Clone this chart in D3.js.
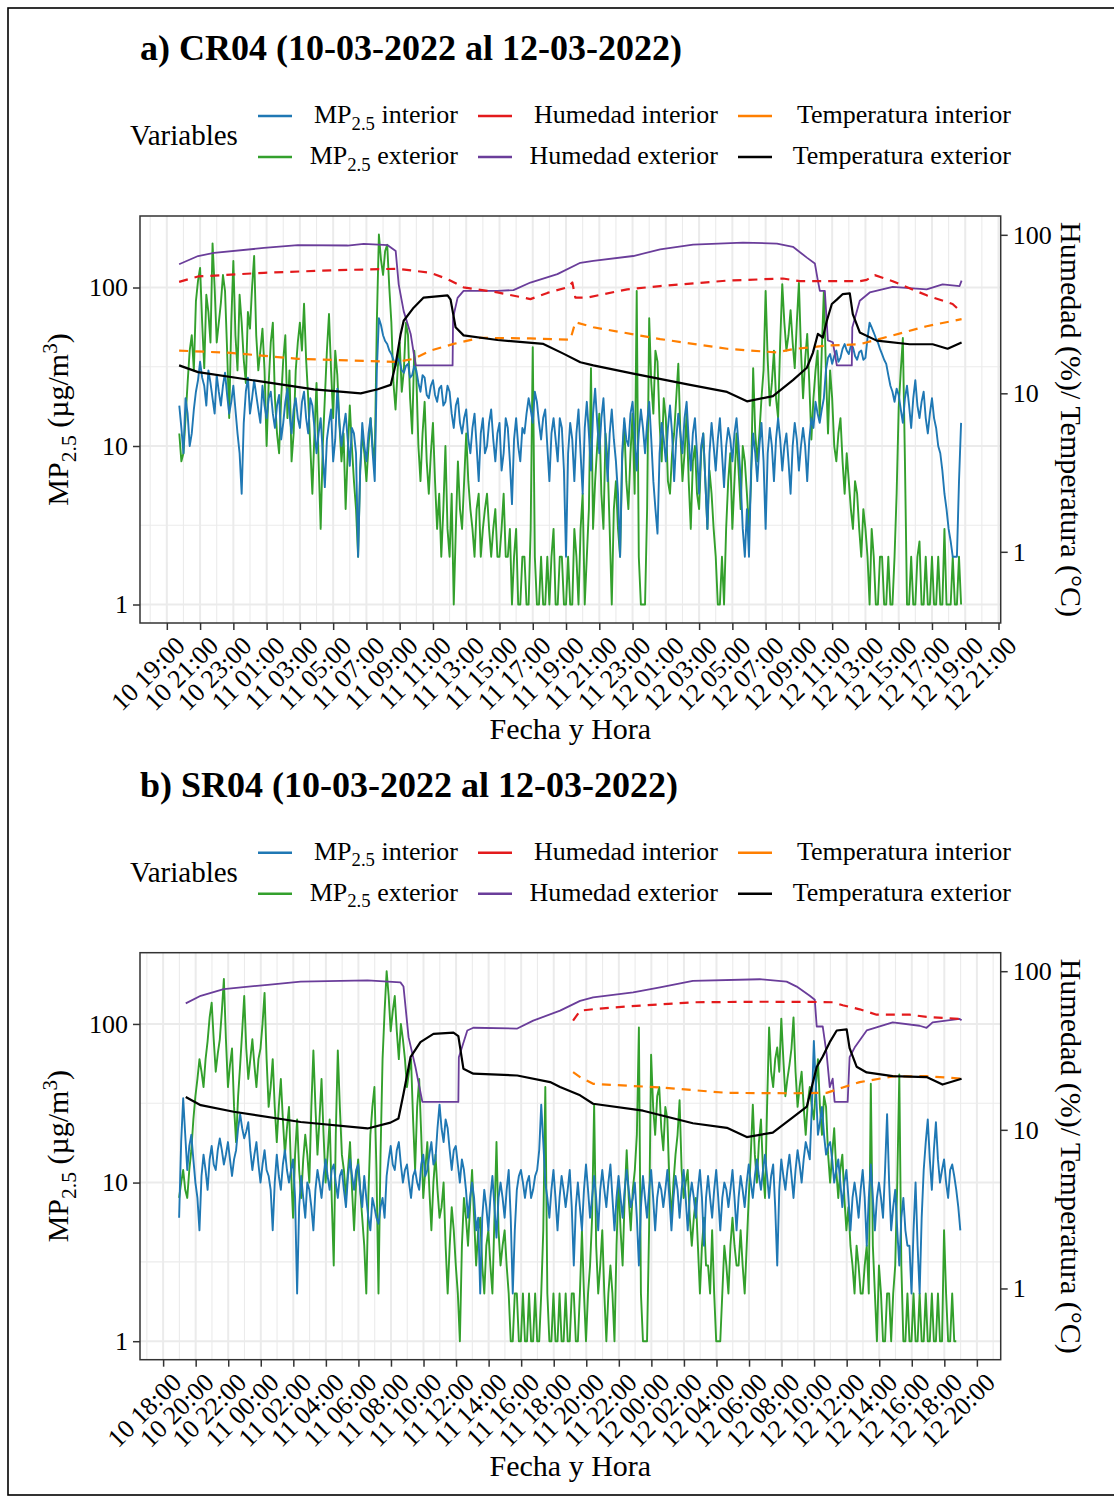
<!DOCTYPE html>
<html>
<head>
<meta charset="utf-8">
<script src="https://cdn.jsdelivr.net/npm/d3@7"></script>
<style>
  body { margin: 0; background: #fff; }
  text { font-family: "Liberation Serif", "Times New Roman", serif; fill: #000; }
</style>
</head>
<body>
<div id="graph"></div>
<script>
var width = 1114, height = 1501
var L = 140, R = 1000.7, T = 216, B = 623   // plot area inside each panel group
var k = 2.15                                  // secondary axis: left value = right value * k
var pmStepMin = 7.5

// ---- a) CR04 ----
var pmStartA = '2022-03-10 19:45'
var pmInA = [18,13,9,20,16,10,12,17,22,26,34,27,24,18,30,25,20,16,28,22,
  18,24,29,21,16,19,24,17,12,9,5,14,22,27,16,20,26,21,17,14,
  24,18,15,20,22,16,13,18,21,11,14,19,23,16,12,17,20,15,13,19,
  22,15,12,20,18,13,9,12,15,9,5.5,11,14,17,8,11,23,14,10,13,
  16,11,7.5,13,12,9,2,7,14,10,8,12,15,9,6,30,64,58,50,46,
  44,40,38,35,32,36,34,30,29,32,33,27,28,32,30,25,22,28,27,21,
  20,24,26,21,19,23,24,18,19,24,22,16,13,18,20,14,12,15,17,11,
  9,13,16,10,6,12,15,9,10,14,17,11,8,12,14,7,9,15,13,8,
  4.3,11,15,10,8,13,12,16,20,17,14,22,19,14,11,15,17,10,6,12,
  15,11,8,15,13,7,2,9,14,11,6,12,17,9,5,13,19,12,7,16,
  23,14,9,15,20,11,6,12,17,11,8,5,2,9,15,11,10,16,19,12,
  7,12,17,13,9,14,19,11,6,4,2.8,9,14,11,8,13,18,12,6,11,
  16,12,9,15,19,11,7,12,15,9,5,10,12,6,3,9,14,10,7,11,
  15,9,5.5,10,13,11,8,12,15,10,6,3,2,4,2,7,12,9,6,10,
  14,8,3,9,13,10,6,11,15,11,7,10,12,8,5,10,14,11,7,10,
  13,10,6,11,15,13,19,16,14,17,20,30,36,38,33,37,40,34,36,41,
  44,40,38,43,42,37,35,39,40,35,36,48,60,56,52,48,45,41,38,35,
  33,28,24,22,19,23,21,17,14,20,24,18,13,20,26,18,15,19,22,15,
  12,16,20,15,13,10,9,7,5,4,3,2.5,2,2,2,6,14]
var pmExA = [12,8,9,15,25,40,50,30,82,110,133,60,31,90,70,45,190,100,45,60,
  80,120,95,40,15,60,147,50,30,90,60,35,25,70,55,100,158,50,30,40,
  55,30,10,25,45,60,20,12,9,20,35,50,15,30,8,12,30,45,60,40,
  79,35,20,10,5,12,25,8,3,10,20,40,68,30,15,40,28,14,8,12,
  4,9,18,10,6,4,2,7,12,9,6,10,15,10,8,60,216,150,120,170,
  186,100,60,25,17,30,45,22,30,60,50,20,12,40,28,10,6,12,19,8,
  5,9,14,6,3,5,2,4,10,3,2,5,1,3,8,4,3,6,12,6,
  4,3,2,4,5,2,3,4,5,3,2,3,4,2,2,3,5,2,2,3,
  1,2,3,1,1,2,2,1,1,3,42,2,1,1,2,1,1,2,1,2,
  3,1,1,2,2,1,1,2,1,1,3,2,1,3,5,1,2,4,31,3,
  6,10,16,5,3,12,8,3,1,4,6,3,2,8,14,6,4,9,16,5,
  95,2,1,1,1,4,64,25,16,40,34,14,8,20,15,6,5,9,12,20,
  33,12,6,9,16,6,3,8,10,5,4,9,12,6,3,7,5,3,2,1,
  1,2,1,3,6,9,3,6,12,7,4,10,8,5,3,6,31,12,8,12,
  20,30,95,35,18,25,40,20,15,45,105,60,40,50,72,45,31,60,107,40,
  20,35,51,25,11,20,30,40,15,40,95,30,12,30,20,10,8,12,15,8,
  5,9,6,4,3,6,5,3,2,4,3,2,1,3,2,1,1,2,2,1,
  1,2,1,1,2,5,17.5,30,48,8,1,1,2,1,1,2,2.5,1,1,2,
  1,1,2,1,1,2,1,1,3,1,1,1,2,1,1,2,1]
// [hours from 10-03 00:00, value]
var humExA = [[19.74,65.2],[20.88,73.5],[21.84,77],[24.84,82.6],[26.88,86],[29.87,85.6],[30.84,87.8],
  [32.28,86],[32.76,79],[32.94,48.7],[33.24,33],[33.66,23.7],[33.96,15],[36.18,15],[36.21,30],[36.48,40],
  [36.84,44.3],[38.88,44.3],[39.84,44.8],[40.86,50],[42.48,56.5],[43.86,66.6],[44.64,68.4],[47.04,73.5],
  [48.66,80.9],[50.64,86.8],[53.64,89.4],[55.68,88],[56.64,84],[57.48,71.8],[57.96,66],[58.14,51.4],
  [58.26,44.3],[58.56,44.3],[58.74,21.6],[59.04,21],[59.28,15],[60.18,15],[60.21,26],[60.66,38.4],
  [61.26,43.3],[62.64,47],[64.68,45.3],[65.64,48.7],[66.66,47.5],[66.78,51.4]]
var humInA = [[19.74,50.5],[20.88,54.6],[24.84,57.6],[28.86,59.7],[32.88,61.1],[34.86,57.6],[35.88,52.5],
  [36.84,46.6],[38.88,43.3],[40.86,39.3],[41.88,43],[43.08,46.6],[43.38,50],[43.56,40.2],[44.28,40.2],
  [46.68,45.3],[48.66,47.5],[52.68,51.4],[56.04,53],[57.06,51],[60.66,51],[61.08,52],[61.56,55.7],
  [62.64,51],[64.68,41.5],[66.24,36.6],[66.78,32.5]]
var tempInA = [[19.74,18.6],[22.86,18],[26.88,16.5],[30.84,16],[32.88,15.8],[33.84,16.5],[34.86,18.6],
  [36.24,20.5],[37.86,22.4],[40.86,22.2],[43.26,21.8],[43.56,28.1],[44.64,26.1],[48.66,22],[52.68,19.1],
  [55.68,18.1],[56.64,19],[58.68,20],[60.66,20.4],[62.64,23.2],[64.68,26.5],[66.78,29.4]]
var tempExA = [[19.74,15],[20.88,13.6],[24.84,11.8],[27.84,10.6],[30.66,10],[31.68,10.6],[32.46,11.3],
  [32.76,15.3],[33.06,23.7],[33.24,28.7],[33.84,34.7],[34.44,40.2],[35.88,41.5],[36.06,39],[36.36,26.1],
  [36.84,23.2],[38.88,21.7],[41.64,20.5],[42.84,17.8],[43.86,15.7],[44.64,15],[47.04,13.3],[50.46,11.3],
  [52.68,10.2],[53.88,8.9],[55.44,9.6],[56.64,12.1],[57.48,14.5],[57.84,18],[58.14,23.7],[58.44,22.5],
  [58.68,28.7],[58.98,36.6],[59.28,39],[59.64,42.3],[60.06,42.7],[60.24,31.6],[60.66,24.2],[61.68,21.5],
  [63.66,20.4],[65.04,20.4],[65.94,19.1],[66.78,20.9]]

// ---- b) SR04 ----
var pmStartB = '2022-03-10 18:59'
var pmInB = [6,18,34,20,12,17,20,14,10,8,5,11,15,12,9,14,17,13,12,16,
  19,16,13,15,18,14,11,14,16,22,27,22,19,21,24,16,12,15,18,13,
  10,13,16,12,11,9,5,10,15,11,9,13,16,12,10,12,14,8,2,7,
  11,8,6,10,9,7,5,9,12,10,8,11,14,11,9,12,13,10,8,11,
  12,9,7,11,14,11,9,12,13,9,7,11,8,6,5,8,7,6,5.5,7,
  8,6,11,14,17,13,12,16,18,13,10,12,13,10,8,11,12,10,9,13,
  15,11,12,15,18,13,14,22,31,22,18,25,22,16,12,16,17,13,10,14,
  12,9,6,8,10,8,5,6,2,6,9,7,5,8,11,7,4.5,8,10,8,
  6,9,12,6,2,5,9,11,12,10,8,10,11,8,9,11,12,16,31,18,
  10,8,6,9,12,8,5,8,11,9,7,9,12,7,3,7,10,7,5,9,
  13,9,6,8,11,8,5,9,12,9,7,10,13,8,5,8,11,8,6,9,
  12,9,7,8,10,6,3,7,11,8,6,9,12,8,5,8,10,9,7,9,
  12,8,5,8,11,9,6,9,12,8,5,8,10,8,6,9,12,8,4,8,
  11,8,6,9,12,8,5,8,10,9,7,9,12,8,5,8,11,9,7,10,
  13,10,8,11,14,11,9,12,15,11,8,11,13,7,3,9,14,11,9,12,
  15,11,8,12,16,13,10,14,18,16,14,30,78,40,20,24,30,20,15,17,
  18,14,10,12,14,10,7,10,12,8,5,8,10,8,6,9,12,8,4,8,
  13,8,5,8,10,8,6,12,27,10,5,7,9,5,3,6,8,5,4,4,
  2,5,10,4,2,6,12,18,25,14,9,16,24,14,10,12,14,10,8,12,
  13,11,9,7,5]
var pmExB = [8,10,12,9,8,12,16,25,35,45,60,50,40,60,78,110,136,80,50,65,
  80,120,192,80,40,55,70,30,18,35,55,90,150,70,45,60,80,55,40,60,
  70,100,157,60,30,40,60,30,18,30,45,25,15,22,30,12,6,15,25,12,
  8,14,20,15,10,30,68,30,15,25,45,20,10,15,25,8,3,20,68,30,
  15,12,8,12,18,9,5,10,14,9,6,4,2,8,20,30,40,12,2,15,
  60,120,215,150,90,120,150,90,60,100,80,60,40,50,60,25,12,30,45,20,
  8,12,18,9,5,10,15,9,6,7,10,4,2,4,7,5,3,2,1,4,
  8,6,4,7,12,6,3,5,6,3,2,4,5,3,2,6,18,5,3,4,
  5,3,2,1,1,2,2,1,1,2,1,1,2,1,1,2,1,1,2,5,
  40,2,1,1,2,1,1,2,1,1,2,1,1,2,2,1,1,2,5,2,
  1,2,3,6,31,4,2,3,5,2,1,2,3,2,1,4,10,5,3,8,
  16,8,5,9,12,20,95,2,1,1,1,5,64,30,20,35,40,22,16,30,
  25,10,6,10,15,20,33,12,8,10,12,6,4,6,8,4,2,4,6,3,
  3,2,5,2,1,1,1,2,4,3,2,4,6,4,3,3,5,3,2,4,
  8,15,31,15,10,18,25,12,8,30,95,50,40,60,71,50,108,60,35,45,
  55,70,110,50,30,40,50,30,20,32,40,30,25,40,60,30,20,35,30,15,
  10,15,22,12,8,12,15,8,5,7,4,3,2,4,3,2,2,3,4,2,
  42,4,2,1,3,2,1,1,2,2,1,2,3,10,48,3,1,1,2,1,
  1,2,1,1,2,1,1,2,1,1,2,1,1,2,1,1,5,2,1,1,
  2,1,1]
var humExB = [[19.39,62.7],[20.31,70],[21.72,77.2],[24.42,82],[26.45,86],[30.56,87.5],[32.58,85],[32.77,80],
  [33.08,38.4],[33.5,25],[33.93,15],[36.14,15],[36.17,28.7],[36.69,42.3],[37.06,44],[39.76,43.5],
  [40.74,48.8],[42.39,56.4],[43.62,65],[44.42,68.4],[46.88,73.5],[48.53,79],[50.55,87],[54.66,89],
  [56.31,86],[56.93,80],[57.73,70],[58.04,66],[58.16,44.8],[58.53,44.8],[58.77,30],[58.96,18.6],
  [59.14,21],[59.26,15],[60.06,15],[60.18,28.7],[60.49,33],[61.23,42.3],[62.83,47.6],[64.48,45.3],
  [64.91,44],[65.28,47.6],[66.94,50],[67.06,49]]
var humInB = [[43.19,48.8],[43.62,56.4],[44.42,57.6],[46.51,60],[50.55,63.7],[54.66,64.2],[57.92,64],
  [59.14,63.7],[59.76,61],[60.8,57.5],[61.84,53.2],[63.87,53.2],[64.91,51.5],[67.06,50]]
var tempInB = [[43.19,23.1],[43.62,21.5],[44.42,19.5],[48.53,18.5],[52.64,17.1],[56.69,17],[58.77,17.1],
  [59.76,18.5],[60.8,20],[62.83,21.7],[64.91,21.8],[67.06,21]]
var tempExB = [[19.39,16.1],[20.31,14.3],[22.34,13],[26.45,11.2],[30.56,10.2],[31.97,11.1],[32.46,11.8],
  [32.77,16.9],[33.2,28.7],[33.81,35.7],[34.61,40.3],[35.84,41],[36.14,39],[36.45,24.3],[37.06,22.6],
  [39.76,22],[41.78,20],[42.39,18.6],[43.62,16.5],[44.42,14.6],[47.49,13.2],[50.55,11],[52.64,10.3],
  [53.86,9],[55.46,9.6],[56.69,12],[57.55,14],[58.16,24.9],[58.53,29],[58.96,35.7],[59.39,42.3],
  [60,43],[60.18,32.7],[60.61,25],[61.23,23],[62.83,21.8],[64.91,21.5],[65.89,19.3],[67.06,21]]

var colors = {pmIn: '#1f78b4', pmEx: '#33a02c', humIn: '#e31a1c', humEx: '#6a3d9a', tempIn: '#ff7f00', tempEx: '#000'}

var parse = d3.timeParse('%Y-%m-%d %H:%M')
var day0 = parse('2022-03-10 00:00')
function atHour(h){ return new Date(+day0 + h*3600e3) }
function regular(start, vals){
  var t0 = parse(start)
  return vals.map(function(v, i){ return {date: new Date(+t0 + i*pmStepMin*60e3), v: v} })
}
function pairs(arr){ return arr.map(function(d){ return {date: atHour(d[0]), v: d[1]} }) }

var svg = d3.select('#graph').append('svg').attr('width', width).attr('height', height)
svg.append('rect').attr('x', 8).attr('y', 8).attr('width', 1200).attr('height', 1487)
  .attr('fill', 'none').attr('stroke', '#000').attr('stroke-width', 1.6)

function mpText(sel, rest, sz){
  sel.append('tspan').text('MP')
  sel.append('tspan').attr('font-size', sz*0.72).attr('dy', sz*0.25).text('2.5')
  sel.append('tspan').attr('dy', -sz*0.25).text(rest)
}

function drawPanel(g, p){
  var series = [
    {key: 'pmEx', data: regular(p.pmStart, p.pmEx), left: true, w: 1.9},
    {key: 'pmIn', data: regular(p.pmStart, p.pmIn), left: true, w: 1.9},
    {key: 'humEx', data: pairs(p.humEx), w: 1.8},
    {key: 'humIn', data: pairs(p.humIn), w: 2.2, dash: '9,7'},
    {key: 'tempIn', data: pairs(p.tempIn), w: 2.2, dash: '9,7'},
    {key: 'tempEx', data: pairs(p.tempEx), w: 2.2}
  ]
  var all = series.flatMap(function(s){ return s.data })
  var tExt = d3.extent(all, function(d){ return d.date }), span = tExt[1] - tExt[0]
  var x = d3.scaleTime()
    .domain([new Date(+tExt[0] - .05*span), new Date(+tExt[1] + .05*span)])
    .range([L, R])
  var logs = series.flatMap(function(s){
    return s.data.map(function(d){ return Math.log10(s.left ? d.v : d.v*k) })
  })
  var lExt = d3.extent(logs), lSpan = lExt[1] - lExt[0]
  var y = d3.scaleLog().domain([Math.pow(10, lExt[0] - .05*lSpan), Math.pow(10, lExt[1] + .05*lSpan)]).range([B, T])
  var y2 = d3.scaleLog().domain(y.domain().map(function(d){ return d/k })).range([B, T])

  // title + legend
  g.append('text').attr('x', 140).attr('y', 60).attr('font-size', 36).attr('font-weight', 'bold').text(p.title)
  g.append('text').attr('x', 130).attr('y', 145).attr('font-size', 29).text('Variables')
  var legend = [
    {key: 'pmIn', mp: ' interior', col: 0, row: 0},
    {key: 'pmEx', mp: ' exterior', col: 0, row: 1},
    {key: 'humIn', label: 'Humedad interior', col: 1, row: 0},
    {key: 'humEx', label: 'Humedad exterior', col: 1, row: 1},
    {key: 'tempIn', label: 'Temperatura interior', col: 2, row: 0},
    {key: 'tempEx', label: 'Temperatura exterior', col: 2, row: 1}
  ]
  var keyX = [258, 478, 738], textR = [458, 718, 1011], rowY = [116, 157]
  legend.forEach(function(d){
    g.append('line').attr('x1', keyX[d.col]).attr('x2', keyX[d.col] + 34)
      .attr('y1', rowY[d.row]).attr('y2', rowY[d.row])
      .attr('stroke', colors[d.key]).attr('stroke-width', 2.5)
    var t = g.append('text').attr('x', textR[d.col]).attr('y', rowY[d.row] + 7)
      .attr('text-anchor', 'end').attr('font-size', 26)
    if (d.mp) mpText(t, d.mp, 26)
    else t.text(d.label)
  })

  // grid
  var grid = g.append('g')
  var hours = d3.timeHour.range(d3.timeHour.ceil(x.domain()[0]), x.domain()[1])
  var first = d3.timeHour.floor(tExt[0])
  var ticks = d3.timeHour.range(first, x.domain()[1]).filter(function(d, i){ return i % 2 == 0 })
  var tickSet = new Set(ticks.map(Number))
  grid.selectAll('line.v').data(hours).enter().append('line')
    .attr('x1', x).attr('x2', x).attr('y1', T).attr('y2', B)
    .attr('stroke', '#ebebeb').attr('stroke-width', function(d){ return tickSet.has(+d) ? 2 : 1.1 })
  var yMaj = [1, 10, 100], yMin = [Math.sqrt(10), Math.sqrt(1000)]
  grid.selectAll('line.h').data(yMaj.concat(yMin)).enter().append('line')
    .attr('x1', L).attr('x2', R).attr('y1', y).attr('y2', y)
    .attr('stroke', '#ebebeb').attr('stroke-width', function(d){ return yMaj.indexOf(d) > -1 ? 2 : 1.1 })

  // lines
  var plot = g.append('g')
  series.forEach(function(s){
    var ys = s.left ? y : y2
    plot.append('path').datum(s.data)
      .attr('d', d3.line().x(function(d){ return x(d.date) }).y(function(d){ return ys(d.v) }))
      .attr('fill', 'none').attr('stroke', colors[s.key]).attr('stroke-width', s.w)
      .attr('stroke-linejoin', 'round')
      .attr('stroke-dasharray', s.dash || null)
  })

  g.append('rect').attr('x', L).attr('y', T).attr('width', R - L).attr('height', B - T)
    .attr('fill', 'none').attr('stroke', '#333').attr('stroke-width', 1.5)

  // axes
  var fmt = d3.timeFormat('%d %H:%M')
  var ax = g.append('g').attr('transform', 'translate(0,' + B + ')')
    .call(d3.axisBottom(x).tickValues(ticks).tickFormat(fmt).tickSize(7))
  ax.selectAll('.tick text').attr('y', 0).attr('dy', '0.72em').attr('text-anchor', 'end')
    .attr('transform', 'translate(6,11) rotate(-45)')
  var ay = g.append('g').attr('transform', 'translate(' + L + ',0)')
    .call(d3.axisLeft(y).tickValues(yMaj).tickFormat(d3.format('d')).tickSize(7))
  ay.selectAll('.tick text').attr('x', -12)
  var ay2 = g.append('g').attr('transform', 'translate(' + R + ',0)')
    .call(d3.axisRight(y2).tickValues([1, 10, 100]).tickFormat(d3.format('d')).tickSize(7))
  ay2.selectAll('.tick text').attr('x', 12)
  ;[ax, ay, ay2].forEach(function(a){
    a.select('.domain').remove()
    a.selectAll('.tick line').attr('stroke', '#333').attr('stroke-width', 1.5)
    a.selectAll('.tick text').attr('font-size', 26).attr('font-family', null).attr('fill', '#000')
  })

  g.append('text').attr('x', (L + R)/2).attr('y', 739).attr('text-anchor', 'middle')
    .attr('font-size', 30).text('Fecha y Hora')
  var yt = g.append('text').attr('transform', 'translate(68,' + (T + B)/2 + ') rotate(-90)')
    .attr('text-anchor', 'middle').attr('font-size', 30)
  mpText(yt, ' (µg/m', 30)
  yt.append('tspan').attr('font-size', 21).attr('dy', -11).text('3')
  yt.append('tspan').attr('dy', 11).text(')')
  g.append('text').attr('transform', 'translate(1061,' + (T + B)/2 + ') rotate(90)')
    .attr('text-anchor', 'middle').attr('font-size', 30).text('Humedad (%)/ Temperatura (°C)')
}

drawPanel(svg.append('g'), {
  title: 'a) CR04 (10-03-2022 al 12-03-2022)', pmStart: pmStartA,
  pmIn: pmInA, pmEx: pmExA, humEx: humExA, humIn: humInA, tempIn: tempInA, tempEx: tempExA
})
drawPanel(svg.append('g').attr('transform', 'translate(0,736.7)'), {
  title: 'b) SR04 (10-03-2022 al 12-03-2022)', pmStart: pmStartB,
  pmIn: pmInB, pmEx: pmExB, humEx: humExB, humIn: humInB, tempIn: tempInB, tempEx: tempExB
})
</script>
</body>
</html>
